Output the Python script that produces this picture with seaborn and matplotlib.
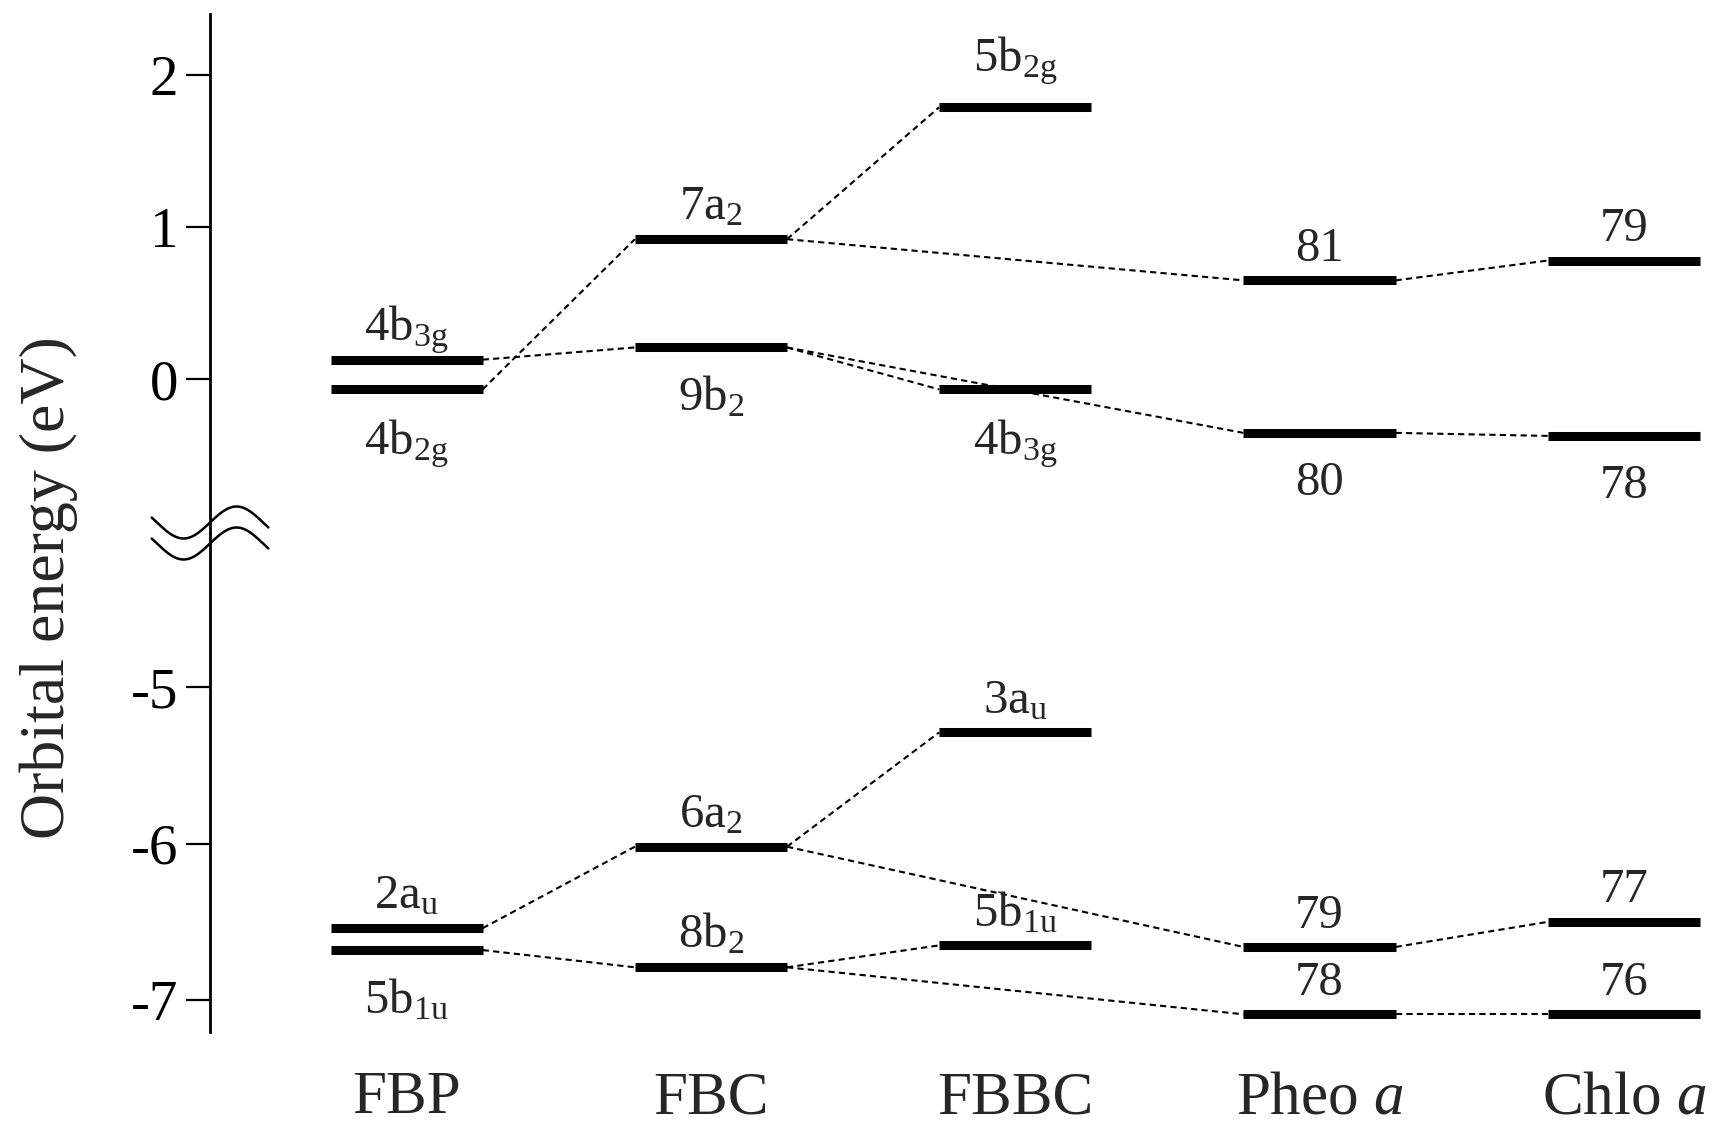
import numpy as np
import pandas as pd
import matplotlib
matplotlib.use("Agg")
import matplotlib.pyplot as plt
import seaborn as sns

# ---- data -------------------------------------------------------------
systems = ["FBP", "FBC", "FBBC", "Pheo $\\mathit{a}$", "Chlo $\\mathit{a}$"]

# unoccupied orbitals (upper panel)
upper_sys = [0, 0, 1, 1, 2, 2, 3, 3, 4, 4]
upper_energy = [0.13, -0.065, 0.92, 0.21, 1.785, -0.065, 0.65, -0.35, 0.78, -0.37]
upper_labels = ["4b$_{\\mathrm{3g}}$", "4b$_{\\mathrm{2g}}$", "7a$_{\\mathrm{2}}$",
                "9b$_{\\mathrm{2}}$", "5b$_{\\mathrm{2g}}$", "4b$_{\\mathrm{3g}}$",
                "81", "80", "79", "78"]
upper_side = ["above", "below", "above", "below", "above", "below",
              "above", "below", "above", "below"]
upper_links = [(1, 2), (0, 3), (2, 4), (2, 6), (3, 5), (3, 7), (6, 8), (7, 9)]

# occupied orbitals (lower panel)
lower_sys = [0, 0, 1, 1, 2, 2, 3, 3, 4, 4]
lower_energy = [-6.54, -6.68, -6.02, -6.79, -5.29, -6.65, -6.66, -7.09, -6.50, -7.09]
lower_labels = ["2a$_{\\mathrm{u}}$", "5b$_{\\mathrm{1u}}$", "6a$_{\\mathrm{2}}$",
                "8b$_{\\mathrm{2}}$", "3a$_{\\mathrm{u}}$", "5b$_{\\mathrm{1u}}$",
                "79", "78", "77", "76"]
lower_side = ["above", "below", "above", "above", "above", "above",
              "above", "above", "above", "above"]
lower_links = [(0, 2), (1, 3), (2, 4), (2, 6), (3, 5), (3, 7), (6, 8), (7, 9)]

HALF = 0.25  # half width of a level bar in category units
# extra lift (points) for individual labels, keyed by (panel, level index)
LABEL_NUDGE = {("upper", 4): 12}

# ---- style ------------------------------------------------------------
sns.set_theme(style="white")
plt.rcParams["font.family"] = ["Liberation Serif", "DejaVu Serif"]
plt.rcParams["mathtext.fontset"] = "custom"
plt.rcParams["mathtext.rm"] = "Liberation Serif"
plt.rcParams["mathtext.it"] = "Liberation Serif:italic"
plt.rcParams["axes.unicode_minus"] = False

fig = plt.figure(figsize=(17.16, 11.26), dpi=100)
left, right = 0.1224, 0.9977
split, top, bottom = 0.527, 0.988, 0.0835
ax_top = fig.add_axes([left, split, right - left, top - split])
ax_bot = fig.add_axes([left, bottom, right - left, split - bottom])


def draw_panel(ax, name, sys_idx, energy, labels, side, links):
    rows = []
    for k, (a, b) in enumerate(links):
        rows.append({"x": sys_idx[a] + HALF, "E": energy[a], "link": k})
        rows.append({"x": sys_idx[b] - HALF, "E": energy[b], "link": k})
    links_df = pd.DataFrame(rows)
    sns.lineplot(data=links_df, x="x", y="E", units="link", estimator=None,
                 sort=False, color="black", lw=1.5, linestyle=(0, (3, 2)),
                 legend=False, ax=ax, zorder=2)
    xs = np.asarray(sys_idx, dtype=float)
    ax.hlines(energy, xs - HALF, xs + HALF, colors="black", lw=6.5,
              zorder=3, capstyle="butt")
    for i, (x, e, lab, s) in enumerate(zip(xs, energy, labels, side)):
        lift = LABEL_NUDGE.get((name, i), 0)
        if s == "above":
            ax.annotate(lab, (x, e), xytext=(0, 14 + lift),
                        textcoords="offset points",
                        ha="center", va="baseline", fontsize=35, zorder=4)
        else:
            ax.annotate(lab, (x, e), xytext=(0, -20), textcoords="offset points",
                        ha="center", va="top", fontsize=35, zorder=4)
    ax.set_xlim(-0.646, 4.29)
    ax.set_xlabel("")
    ax.set_ylabel("")
    for sp in ["top", "right", "bottom"]:
        ax.spines[sp].set_visible(False)
    ax.spines["left"].set_linewidth(2.0)
    ax.spines["left"].set_color("black")
    ax.tick_params(axis="y", which="major", left=True, length=17, width=1.6,
                   pad=6, labelsize=41, color="black", labelcolor="black")


draw_panel(ax_top, "upper", upper_sys, upper_energy, upper_labels, upper_side,
           upper_links)
draw_panel(ax_bot, "lower", lower_sys, lower_energy, lower_labels, lower_side,
           lower_links)

ax_top.set_ylim(-1.004, 2.40)
ax_top.set_yticks([0, 1, 2])
ax_top.set_yticklabels(["0", "1", "2"])
ax_top.set_xticks([])

ax_bot.set_ylim(-7.203, -4.014)
ax_bot.set_yticks([-7, -6, -5])
ax_bot.set_yticklabels(["-7", "-6", "-5"])
ax_bot.set_xticks(range(len(systems)))
ax_bot.set_xticklabels(systems, fontsize=44)
ax_bot.tick_params(axis="x", length=0, pad=28)

# axis break mark
t = np.linspace(-0.55, 0.55, 200)
cx, cy = left, 1 - 533 / 1126
wx = 106 / 1716
amp = 16 / 1126
gap = 21 / 1126
for off in (gap / 2, -gap / 2):
    fig.add_artist(plt.Line2D(cx + t * wx, cy + off + amp * np.sin(2 * np.pi * t),
                              transform=fig.transFigure, color="black", lw=1.8))

fig.text(0.0287, 0.478, "Orbital energy (eV)", rotation=90, ha="center",
         va="center", fontsize=46)

fig.savefig("out.png", dpi=100, facecolor="white")
